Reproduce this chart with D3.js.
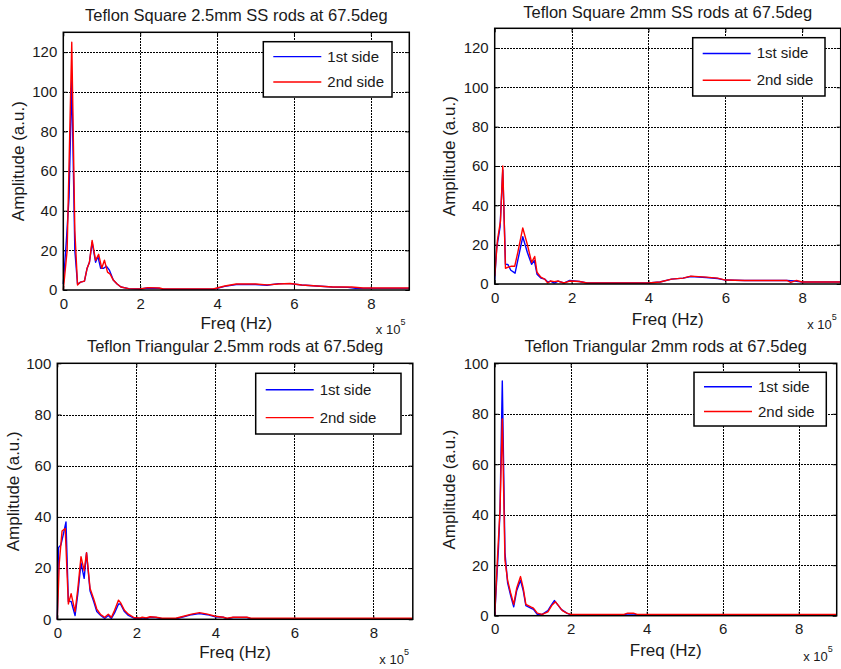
<html>
  <head>
    <meta charset="UTF-8">
    <style>
      body { margin: 0; background: white; }
      text { font-family: 'Liberation Sans', Arial, sans-serif; fill: #1a1a1a; }
    </style>
  </head>
  <body>
    <script src="https://d3js.org/d3.v7.min.js"></script>
    <svg id="fig" width="841" height="669"></svg>
    <script>
      var titles = ["Teflon Square 2.5mm SS rods at 67.5deg",
        "Teflon Square 2mm SS rods at 67.5deg",
        "Teflon Triangular 2.5mm rods at 67.5deg",
        "Teflon Triangular 2mm rods at 67.5deg"];
      var seriesNames = ["1st side", "2nd side"];
      var xTicks = [0, 2, 4, 6, 8];
      var yTicksSquare = [0, 20, 40, 60, 80, 100, 120];
      var yTicksTri = [0, 20, 40, 60, 80, 100];

      /* frequencies in units of 1e5 Hz */
      var sq25Freq1 = [0, 0.08, 0.15, 0.22, 0.3, 0.37, 0.45, 0.55, 0.62, 0.68, 0.75, 0.84, 0.9, 0.97, 1.05, 1.12, 1.2, 1.3, 1.4, 1.5, 1.7, 2.0, 2.2, 2.5, 2.6, 3.9, 4.2, 4.5, 5.0, 5.3, 5.6, 5.9, 6.2, 6.6, 7.0, 7.4, 7.6, 9.0];
      var sq25Amp1 = [3, 25, 47, 106, 20, 3, 4, 4.5, 11, 14, 24, 14, 17, 11, 11, 12, 10, 5, 3, 1.5, 0.7, 0.5, 1, 0.8, 0.4, 0.4, 1.8, 2.8, 2.8, 2.4, 3.2, 3.2, 2.5, 2, 1.5, 1.3, 0.8, 0.8];
      var sq25Freq2 = [0, 0.1, 0.22, 0.3, 0.37, 0.45, 0.55, 0.62, 0.68, 0.75, 0.84, 0.92, 1.0, 1.07, 1.15, 1.22, 1.3, 1.4, 1.5, 1.7, 2.0, 2.2, 2.5, 2.6, 3.9, 4.2, 4.5, 5.0, 5.3, 5.6, 5.9, 6.2, 6.6, 7.0, 7.5, 7.8, 9.0];
      var sq25Amp2 = [0, 20, 125, 30, 2.5, 4, 4.5, 11, 14, 25, 15, 18, 11, 15, 9, 8, 5, 3, 1.5, 0.7, 0.5, 1.2, 1, 0.5, 0.5, 2, 3, 3, 2.6, 3, 3.3, 2.5, 2, 1.5, 1.5, 1, 1];

      var sq2Freq1 = [0, 0.05, 0.14, 0.21, 0.28, 0.34, 0.42, 0.53, 0.6, 0.73, 0.85, 0.96, 1.03, 1.1, 1.2, 1.3, 1.38, 1.45, 1.55, 1.65, 1.8, 1.95, 2.2, 2.4, 4.0, 4.3, 4.6, 4.9, 5.1, 5.5, 5.8, 6.0, 6.5, 7.6, 7.8, 8.0, 9.0];
      var sq2Amp1 = [2, 18, 29, 58, 10, 10, 7, 5.5, 12, 24, 16, 10, 12, 5, 3, 2.5, 1, 1.5, 0.5, 1.5, 0.5, 1.8, 1.3, 0.5, 0.5, 1, 2.5, 3, 3.8, 3.3, 2.8, 2, 1.8, 1.8, 1.5, 1, 1];
      var sq2Freq2 = [0, 0.07, 0.15, 0.21, 0.28, 0.34, 0.42, 0.52, 0.6, 0.73, 0.85, 0.96, 1.04, 1.1, 1.2, 1.3, 1.38, 1.45, 1.55, 1.65, 1.8, 1.95, 2.2, 2.4, 4.0, 4.3, 4.6, 4.9, 5.1, 5.5, 5.8, 6.0, 6.5, 7.6, 7.7, 7.85, 8.0, 9.0];
      var sq2Amp2 = [4, 22, 32, 60, 8, 8.5, 9, 9, 16, 28.5, 20, 11, 14, 6, 3.5, 2.5, 0.5, 1.5, 1.2, 1.5, 0.5, 1.5, 1.3, 0.5, 0.5, 1, 2.5, 3, 4, 3.5, 3, 2, 1.8, 1.8, 0.8, 1.8, 1, 1];

      var tri25Freq1 = [0, 0.03, 0.09, 0.15, 0.22, 0.28, 0.35, 0.45, 0.52, 0.6, 0.68, 0.74, 0.83, 0.92, 1.0, 1.1, 1.2, 1.29, 1.37, 1.45, 1.55, 1.6, 1.7, 1.8, 1.95, 2.1, 2.15, 2.25, 2.35, 2.5, 2.65, 3.0, 3.2, 3.4, 3.6, 3.8, 4.0, 4.2, 4.3, 4.45, 4.8, 4.9, 9.0];
      var tri25Amp1 = [0, 28, 29, 33, 38, 7, 7, 1.5, 10, 22, 16, 26, 11, 7, 3, 1.5, 0.3, 1.5, 0.3, 2.5, 6, 6, 3, 1.5, 0.4, 0.3, 0.6, 0.3, 0.8, 0.7, 0.2, 0.2, 1, 1.8, 2.2, 1.8, 1, 0.8, 0.2, 0.7, 0.7, 0.2, 0.2];
      var tri25Freq2 = [0, 0.05, 0.12, 0.2, 0.28, 0.35, 0.45, 0.52, 0.6, 0.68, 0.74, 0.83, 0.92, 1.0, 1.1, 1.2, 1.29, 1.37, 1.45, 1.55, 1.6, 1.7, 1.8, 1.95, 2.1, 2.15, 2.25, 2.35, 2.5, 2.65, 3.0, 3.2, 3.4, 3.6, 3.8, 4.0, 4.2, 4.3, 4.45, 4.8, 4.9, 9.0];
      var tri25Amp2 = [0, 22, 34.5, 35.5, 6, 10, 3, 12, 24.5, 19, 26, 12, 8, 4, 1.8, 0.8, 2, 0.8, 3.5, 7.5, 6.5, 3.5, 2, 0.6, 0.5, 0.8, 0.5, 1, 0.8, 0.4, 0.4, 1.2, 2, 2.6, 2, 1.2, 0.8, 0.4, 0.8, 0.8, 0.4, 0.4];

      var tri2Freq1 = [0, 0.1, 0.14, 0.2, 0.27, 0.34, 0.42, 0.5, 0.58, 0.68, 0.75, 0.82, 0.95, 1.02, 1.12, 1.25, 1.4, 1.48, 1.57, 1.65, 1.75, 1.9, 2.0, 3.4, 3.5, 3.65, 3.75, 9.0];
      var tri2Amp1 = [0, 27, 42, 93, 25, 13, 8, 3.5, 10, 14, 10, 4, 3, 2.5, 0.5, 0.5, 2, 4, 6, 4.5, 2.5, 1, 0.3, 0.3, 0.7, 0.7, 0.3, 0.3];
      var tri2Freq2 = [0, 0.08, 0.14, 0.2, 0.27, 0.34, 0.42, 0.5, 0.58, 0.68, 0.75, 0.82, 0.95, 1.02, 1.12, 1.25, 1.4, 1.5, 1.6, 1.68, 1.78, 1.9, 2.0, 3.4, 3.5, 3.65, 3.75, 9.0];
      var tri2Amp2 = [0, 25, 42, 78, 22, 14, 9, 4.5, 11, 15.5, 11, 4.5, 3.5, 3, 1, 0.5, 1.5, 4, 5.5, 4, 2, 1, 0.5, 0.5, 1, 1, 0.5, 0.5];

      var colors = ["#0000ff", "#ff0000"];

      var panels = [
        {title: titles[0], left: 63.3, right: 409.3, top: 32.3, bottom: 290, ymax: 130, yticks: yTicksSquare,
         series: [[sq25Freq1, sq25Amp1], [sq25Freq2, sq25Amp2]],
         titleY: 20.7, xlabY: 329, ylabX: 18, expY: 333.5, legend: [263.3, 41.7, 128.7, 55.3]},
        {title: titles[1], left: 494.7, right: 840.7, top: 28.3, bottom: 284, ymax: 130, yticks: yTicksSquare,
         series: [[sq2Freq1, sq2Amp1], [sq2Freq2, sq2Amp2]],
         titleY: 18.3, xlabY: 325, ylabX: 449.3, expY: 329.3, legend: [692.7, 37.7, 132.3, 58.3]},
        {title: titles[2], left: 57.3, right: 412.8, top: 363.3, bottom: 619.3, ymax: 100, yticks: yTicksTri,
         series: [[tri25Freq1, tri25Amp1], [tri25Freq2, tri25Amp2]],
         titleY: 352.3, xlabY: 658.3, ylabX: 12.7, expY: 664.3, legend: [255.7, 373.3, 145.3, 60.7]},
        {title: titles[3], left: 494.7, right: 836.7, top: 363.3, bottom: 615.7, ymax: 100, yticks: yTicksTri,
         series: [[tri2Freq1, tri2Amp1], [tri2Freq2, tri2Amp2]],
         titleY: 352.3, xlabY: 655.7, ylabX: 449.3, expY: 660.5, legend: [694, 372.3, 132.3, 53.7]}
      ];

      function snap(v) { return Math.round(v) + 0.5; }

      var svg = d3.select("#fig");
      svg.append("rect").attr("width", 841).attr("height", 669).attr("fill", "white");

      panels.forEach(function(p) {
        var x = d3.scaleLinear().domain([0, 9]).range([p.left, p.right]);
        var y = d3.scaleLinear().domain([0, p.ymax]).range([p.bottom, p.top]);
        var g = svg.append("g");
        var w = p.right - p.left, h = p.bottom - p.top;

        /* dotted grid */
        var grid = g.append("g").attr("stroke", "#000").attr("stroke-width", 1).attr("stroke-dasharray", "2,1")
          .attr("shape-rendering", "crispEdges");
        xTicks.forEach(function(t) {
          if (t == 0) return;
          grid.append("line").attr("x1", snap(x(t))).attr("x2", snap(x(t))).attr("y1", p.top).attr("y2", p.bottom);
        });
        p.yticks.forEach(function(t) {
          if (t == 0) return;
          grid.append("line").attr("x1", p.left).attr("x2", p.right).attr("y1", snap(y(t))).attr("y2", snap(y(t)));
        });

        /* axes with inward ticks */
        var ax = d3.axisBottom(x).tickValues(xTicks).tickSize(-4).tickPadding(8).tickSizeOuter(0);
        var ay = d3.axisLeft(y).tickValues(p.yticks).tickSize(-4).tickPadding(6).tickSizeOuter(0);
        var axTop = d3.axisTop(x).tickValues(xTicks).tickSize(-4).tickFormat("").tickSizeOuter(0);
        var ayRight = d3.axisRight(y).tickValues(p.yticks).tickSize(-4).tickFormat("").tickSizeOuter(0);
        [g.append("g").attr("transform", "translate(0," + p.bottom + ")").call(ax),
         g.append("g").attr("transform", "translate(" + p.left + ",0)").call(ay),
         g.append("g").attr("transform", "translate(0," + p.top + ")").call(axTop),
         g.append("g").attr("transform", "translate(" + p.right + ",0)").call(ayRight)].forEach(function(a) {
          a.select(".domain").remove();
          a.selectAll("line").attr("stroke", "#000").attr("stroke-width", 1);
          a.selectAll("text").style("font-size", "15px").style("font-family", "'Liberation Sans', Arial, sans-serif").attr("fill", "#1a1a1a");
        });

        /* series */
        var line = d3.line().x(function(d) { return x(d[0]); }).y(function(d) { return y(d[1]); });
        p.series.forEach(function(s, i) {
          var pts = s[0].map(function(f, k) { return [f, s[1][k]]; });
          g.append("path").datum(pts)
            .attr("fill", "none")
            .attr("stroke", colors[i])
            .attr("stroke-width", 1.4)
            .attr("stroke-linejoin", "round")
            .attr("d", line);
        });

        /* frame */
        g.append("rect").attr("x", p.left).attr("y", p.top).attr("width", w).attr("height", h)
          .attr("fill", "none").attr("stroke", "#000").attr("stroke-width", 1.5);

        /* legend */
        var L = p.legend;
        var lg = g.append("g");
        lg.append("rect").attr("x", L[0]).attr("y", L[1]).attr("width", L[2]).attr("height", L[3])
          .attr("fill", "white").attr("stroke", "#000").attr("stroke-width", 1.5);
        seriesNames.forEach(function(name, i) {
          var ly = L[1] + L[3] * (0.27 + 0.46 * i);
          lg.append("line").attr("x1", L[0] + 10).attr("x2", L[0] + 58).attr("y1", ly).attr("y2", ly)
            .attr("stroke", colors[i]).attr("stroke-width", 1.4);
          lg.append("text").attr("x", L[0] + 64).attr("y", ly + 5).style("font-size", "15px").text(name);
        });

        /* labels */
        g.append("text").attr("x", (p.left + p.right) / 2).attr("y", p.titleY)
          .attr("text-anchor", "middle").style("font-size", "16.5px").text(p.title);
        g.append("text").attr("x", (p.left + p.right) / 2).attr("y", p.xlabY)
          .attr("text-anchor", "middle").style("font-size", "17px").text("Freq (Hz)");
        g.append("text").attr("transform", "translate(" + (p.ylabX + 6) + "," + (p.top + p.bottom) / 2 + ") rotate(-90)")
          .attr("text-anchor", "middle").style("font-size", "17px").text("Amplitude (a.u.)");
        var ex = g.append("text").attr("x", p.right - 33.5).attr("y", p.expY).style("font-size", "13px");
        ex.append("tspan").text("x 10");
        ex.append("tspan").attr("dy", -9).style("font-size", "9px").text("5");
      });
    </script>
  </body>
</html>
